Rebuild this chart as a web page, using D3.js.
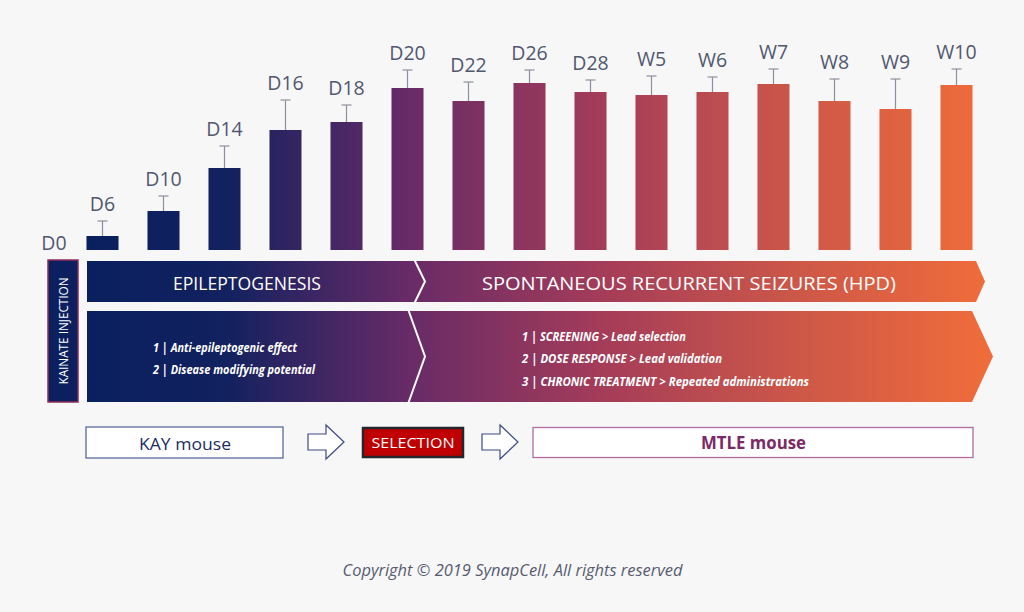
<!DOCTYPE html>
<html>
<head>
<meta charset="utf-8">
<script src="https://cdn.jsdelivr.net/npm/d3@7"></script>
<style>
  html, body { margin: 0; padding: 0; background: #f7f7f8; }
  svg { display: block; }
</style>
</head>
<body>
<svg id="chart" width="1024" height="612"></svg>
<script>
// ---------- data ----------
const categories = ["D0","D6","D10","D14","D16","D18","D20","D22","D26","D28","W5","W6","W7","W8","W9","W10"];
const meanValues = [0, 14, 39, 82, 120, 128, 162, 149, 167, 158, 155, 158, 166, 149, 141, 165];
const errorValues = [0, 15, 15, 22, 30, 17, 18, 19, 13, 12, 19, 15, 15, 22, 30, 16];

const phaseLabels = ["EPILEPTOGENESIS", "SPONTANEOUS RECURRENT SEIZURES (HPD)"];
const epiGoals = ["1 | Anti-epileptogenic effect", "2 | Disease modifying potential"];
const srsGoals = ["1 | SCREENING > Lead selection", "2 | DOSE RESPONSE > Lead validation", "3 | CHRONIC TREATMENT > Repeated administrations"];
const injectionLabel = "KAINATE INJECTION";
const modelLabels = ["KAY mouse", "SELECTION", "MTLE mouse"];
const copyright = "Copyright \u00A9 2019 SynapCell, All rights reserved";

// ---------- setup ----------
const svg = d3.select("#chart");
const W = 1024, H = 612;
svg.append("rect").attr("width", W).attr("height", H).attr("fill", "#f7f7f8");

const x = d3.scaleBand().domain(categories).range([11, 987]).paddingInner(0.475).paddingOuter(0.2375);
const y = d3.scaleLinear().domain([0, 200]).range([250, 50]);

const defs = svg.append("defs");
const grad = defs.append("linearGradient").attr("id", "flow")
  .attr("gradientUnits", "userSpaceOnUse").attr("x1", 87).attr("x2", 990).attr("y1", 0).attr("y2", 0);
[[87, "#0a1f5e"], [225, "#12215f"], [410, "#682b67"], [600, "#a43c59"], [800, "#cd5848"], [990, "#f06c3a"]]
  .forEach(([px, c]) => grad.append("stop").attr("offset", (px - 87) / (990 - 87)).attr("stop-color", c));

const rows = categories.map((c, i) => ({ cat: c, v: meanValues[i], e: errorValues[i] }));

// ---------- bars ----------
const g = svg.append("g");
g.selectAll("rect.bar").data(rows.filter(d => d.v > 0)).join("rect")
  .attr("class", "bar")
  .attr("x", d => x(d.cat)).attr("width", x.bandwidth())
  .attr("y", d => y(d.v)).attr("height", d => y(0) - y(d.v))
  .attr("fill", "url(#flow)");

// error bars
const eb = g.selectAll("g.err").data(rows.filter(d => d.e > 0)).join("g").attr("class", "err");
eb.append("line")
  .attr("x1", d => x(d.cat) + x.bandwidth() / 2).attr("x2", d => x(d.cat) + x.bandwidth() / 2)
  .attr("y1", d => y(d.v)).attr("y2", d => y(d.v + d.e))
  .attr("stroke", "#8d909d").attr("stroke-width", 1.2);
eb.append("line")
  .attr("x1", d => x(d.cat) + x.bandwidth() / 2 - 5).attr("x2", d => x(d.cat) + x.bandwidth() / 2 + 5)
  .attr("y1", d => y(d.v + d.e)).attr("y2", d => y(d.v + d.e))
  .attr("stroke", "#8d909d").attr("stroke-width", 1.2);

// ---------- kainate injection box ----------
const kx = 48, ky = 260, kw = 30, kh = 142;
svg.append("rect").attr("x", kx).attr("y", ky).attr("width", kw).attr("height", kh)
  .attr("fill", "#0c2060").attr("stroke", "#8e2d56").attr("stroke-width", 1.5);
svg.append("text")
  .attr("transform", `translate(${kx + kw / 2 + 4.5},${ky + kh / 2}) rotate(-90)`)
  .attr("text-anchor", "middle")
  .attr("font-family", "'Open Sans', sans-serif").attr("font-size", 12.5)
  .attr("fill", "#ffffff")
  .attr("textLength", 107).attr("lengthAdjust", "spacingAndGlyphs")
  .text(injectionLabel);

// category labels
g.selectAll("text.lbl").data(rows).join("text")
  .attr("class", "lbl")
  .attr("x", d => d.v === 0 ? kx + kw / 2 - 9 : x(d.cat) + x.bandwidth() / 2)
  .attr("y", d => d.v === 0 ? y(0) : y(d.v + d.e) - 10)
  .attr("text-anchor", "middle")
  .attr("font-family", "'Open Sans', sans-serif").attr("font-size", 19.5)
  .attr("fill", "#51576f")
  .text(d => d.cat);

// ---------- phase banners ----------
const line = d3.line();
svg.append("path")
  .attr("d", line([[87, 261], [976, 261], [985, 281.5], [976, 302], [87, 302]]) + "Z")
  .attr("fill", "url(#flow)");
svg.append("path")
  .attr("d", line([[414, 259], [425, 281.5], [414, 304]]))
  .attr("fill", "none").attr("stroke", "#ffffff").attr("stroke-width", 2);

svg.append("path")
  .attr("d", line([[87, 311], [972, 311], [993, 356.5], [972, 402], [87, 402]]) + "Z")
  .attr("fill", "url(#flow)");
svg.append("path")
  .attr("d", line([[408, 309], [425, 356.5], [408, 404]]))
  .attr("fill", "none").attr("stroke", "#ffffff").attr("stroke-width", 2);

const phaseText = [
  { t: phaseLabels[0], cx: 247, len: 148 },
  { t: phaseLabels[1], cx: 689, len: 414 }
];
svg.selectAll("text.phase").data(phaseText).join("text")
  .attr("class", "phase")
  .attr("x", d => d.cx).attr("y", 289.5)
  .attr("text-anchor", "middle")
  .attr("font-family", "'Open Sans', sans-serif").attr("font-size", 18.5)
  .attr("fill", "#ffffff")
  .attr("textLength", d => d.len).attr("lengthAdjust", "spacingAndGlyphs")
  .text(d => d.t);

const epiLens = [144, 162];
svg.selectAll("text.epi").data(epiGoals).join("text")
  .attr("class", "epi")
  .attr("x", 153).attr("y", (d, i) => 351.5 + i * 22)
  .attr("font-family", "'Open Sans', sans-serif").attr("font-size", 12)
  .attr("font-weight", "bold").attr("font-style", "italic")
  .attr("fill", "#ffffff")
  .attr("textLength", (d, i) => epiLens[i]).attr("lengthAdjust", "spacingAndGlyphs")
  .text(d => d);

const srsLens = [164, 200, 287];
svg.selectAll("text.srs").data(srsGoals).join("text")
  .attr("class", "srs")
  .attr("x", 522).attr("y", (d, i) => 340.5 + i * 22.5)
  .attr("font-family", "'Open Sans', sans-serif").attr("font-size", 12)
  .attr("font-weight", "bold").attr("font-style", "italic")
  .attr("fill", "#ffffff")
  .attr("textLength", (d, i) => srsLens[i]).attr("lengthAdjust", "spacingAndGlyphs")
  .text(d => d);

// ---------- model flow ----------
// KAY mouse box
svg.append("rect").attr("x", 86).attr("y", 427).attr("width", 197).attr("height", 31)
  .attr("fill", "#ffffff").attr("stroke", "#5a6a9e").attr("stroke-width", 1.3);
svg.append("text").attr("x", 185).attr("y", 449.5).attr("text-anchor", "middle")
  .attr("font-family", "'Open Sans', sans-serif").attr("font-size", 17)
  .attr("fill", "#1d2d63")
  .attr("textLength", 92).attr("lengthAdjust", "spacingAndGlyphs")
  .text(modelLabels[0]);

// arrows
function blockArrow(x0) {
  const pts = [[x0, 434], [x0 + 18, 434], [x0 + 18, 425], [x0 + 36, 442], [x0 + 18, 459], [x0 + 18, 450], [x0, 450]];
  svg.append("path").attr("d", line(pts) + "Z")
    .attr("fill", "#ffffff").attr("stroke", "#3c4b86").attr("stroke-width", 1.2)
    .attr("stroke-linejoin", "miter");
}
blockArrow(308);
blockArrow(482);

// SELECTION box
svg.append("rect").attr("x", 363).attr("y", 428).attr("width", 100).attr("height", 29)
  .attr("fill", "#c00000").attr("stroke", "#24262c").attr("stroke-width", 2.5);
svg.append("text").attr("x", 413).attr("y", 448).attr("text-anchor", "middle")
  .attr("font-family", "'Open Sans', sans-serif").attr("font-size", 14)
  .attr("fill", "#ffffff")
  .attr("textLength", 83).attr("lengthAdjust", "spacingAndGlyphs")
  .text(modelLabels[1]);

// MTLE mouse box
svg.append("rect").attr("x", 533).attr("y", 427.5).attr("width", 440).attr("height", 30)
  .attr("fill", "#ffffff").attr("stroke", "#b36c9d").attr("stroke-width", 1.3);
svg.append("text").attr("x", 753.5).attr("y", 449).attr("text-anchor", "middle")
  .attr("font-family", "'Open Sans', sans-serif").attr("font-size", 17)
  .attr("font-weight", "bold")
  .attr("fill", "#7c2a66")
  .attr("textLength", 105).attr("lengthAdjust", "spacingAndGlyphs")
  .text(modelLabels[2]);

// ---------- copyright ----------
svg.append("text").attr("x", 512.5).attr("y", 575.5).attr("text-anchor", "middle")
  .attr("font-family", "'Open Sans', sans-serif").attr("font-size", 16)
  .attr("font-style", "italic")
  .attr("fill", "#575c70")
  .attr("textLength", 340).attr("lengthAdjust", "spacingAndGlyphs")
  .text(copyright);
</script>
</body>
</html>
